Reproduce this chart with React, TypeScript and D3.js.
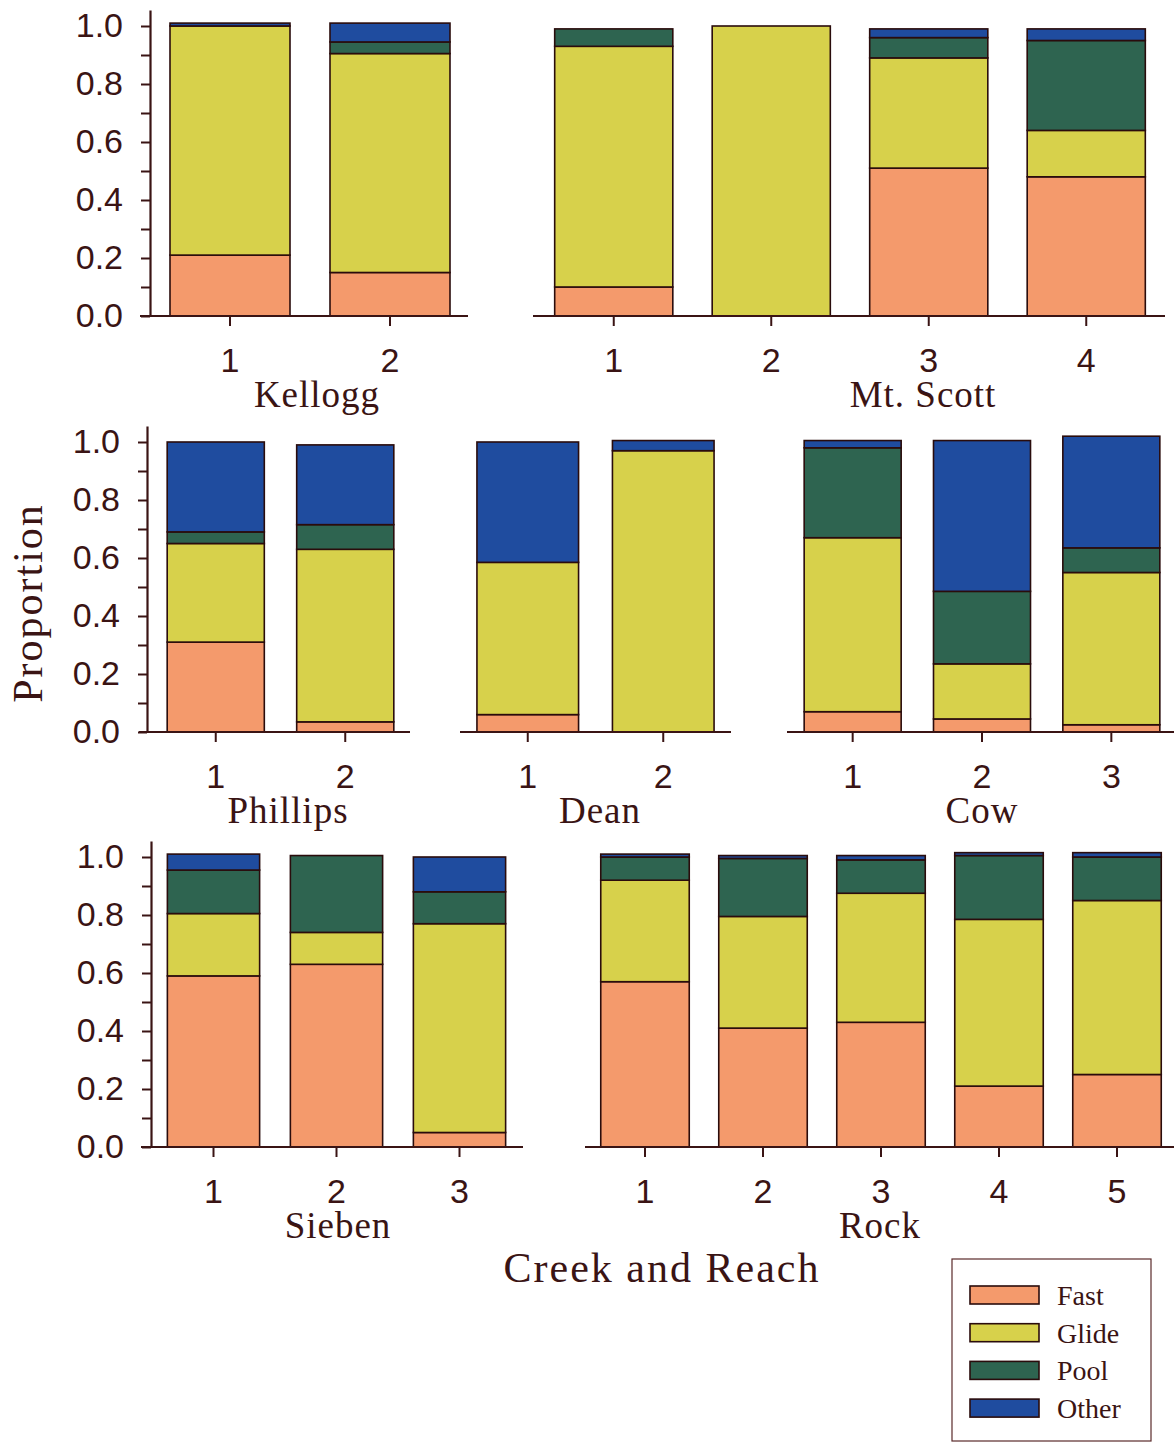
import React, { useEffect, useRef } from "react";
import * as d3 from "d3";

const habitatTypes = ["Fast", "Glide", "Pool", "Other"];
const habitatColors = ["#f49a6c", "#d7d14b", "#2e6450", "#1f4c9f"];

const creeks = ["Kellogg", "Mt. Scott", "Phillips", "Dean", "Cow", "Sieben", "Rock"];
const reaches = [
  ["1", "2"],
  ["1", "2", "3", "4"],
  ["1", "2"],
  ["1", "2"],
  ["1", "2", "3"],
  ["1", "2", "3"],
  ["1", "2", "3", "4", "5"],
];

// proportions of each habitat type, per creek and reach
const fast = [[0.21, 0.15], [0.1, 0, 0.51, 0.48], [0.31, 0.035], [0.06, 0], [0.07, 0.045, 0.025], [0.59, 0.63, 0.05], [0.57, 0.41, 0.43, 0.21, 0.25]];
const glide = [[0.79, 0.755], [0.83, 1.0, 0.38, 0.16], [0.34, 0.595], [0.525, 0.97], [0.6, 0.19, 0.525], [0.215, 0.11, 0.72], [0.35, 0.385, 0.445, 0.575, 0.6]];
const pool = [[0, 0.04], [0.06, 0, 0.07, 0.31], [0.04, 0.085], [0, 0], [0.31, 0.25, 0.085], [0.15, 0.265, 0.11], [0.08, 0.2, 0.115, 0.22, 0.15]];
const other = [[0.01, 0.065], [0, 0, 0.03, 0.04], [0.31, 0.275], [0.415, 0.035], [0.025, 0.52, 0.385], [0.055, 0, 0.12], [0.01, 0.01, 0.015, 0.01, 0.015]];

const yTicks = [0, 0.1, 0.2, 0.3, 0.4, 0.5, 0.6, 0.7, 0.8, 0.9, 1.0];
const yLabelTicks = [0, 0.2, 0.4, 0.6, 0.8, 1.0];

const WIDTH = 1174;
const HEIGHT = 1444;
const INK = "#3a1414";
const SANS = "'Liberation Sans', Arial, Helvetica, sans-serif";
const SERIF = "'Liberation Serif', 'Times New Roman', Times, serif";

// panel layout (pixel positions)
const rowBase = [316, 732, 1147];
const unit = 290;
const yTop = 1.055;
const panels = [
  { row: 0, x0: 150, x1: 470, axisStart: 140, axisEnd: 468, labelX: 317, yAxisX: 150 },
  { row: 0, x0: 535, x1: 1165, axisStart: 533, axisEnd: 1165, labelX: 923 },
  { row: 1, x0: 151, x1: 410, axisStart: 139, axisEnd: 410, labelX: 288, yAxisX: 147 },
  { row: 1, x0: 460, x1: 731, axisStart: 460, axisEnd: 731, labelX: 600 },
  { row: 1, x0: 788, x1: 1176, axisStart: 787, axisEnd: 1174, labelX: 982 },
  { row: 2, x0: 152, x1: 521, axisStart: 141, axisEnd: 523, labelX: 338, yAxisX: 151 },
  { row: 2, x0: 586, x1: 1176, axisStart: 585, axisEnd: 1174, labelX: 880 },
];

const App = () => {
  const svgRef = useRef(null);

  useEffect(() => {
    const svg = d3.select(svgRef.current);
    svg.selectAll("*").remove();

    const color = d3.scaleOrdinal().domain(habitatTypes).range(habitatColors);
    const stack = d3.stack().keys(habitatTypes);

    creeks.forEach((creek, ci) => {
      const p = panels[ci];
      const base = rowBase[p.row];
      const g = svg.append("g");

      const rows = reaches[ci].map((r, i) => ({
        reach: r,
        Fast: fast[ci][i],
        Glide: glide[ci][i],
        Pool: pool[ci][i],
        Other: other[ci][i],
      }));

      const x = d3.scaleBand()
        .domain(reaches[ci])
        .range([p.x0, p.x1])
        .paddingInner(0.25)
        .paddingOuter(0.125);

      const y = d3.scaleLinear()
        .domain([0, yTop])
        .range([base, base - yTop * unit]);

      const series = stack(rows);

      g.selectAll("g.layer")
        .data(series)
        .join("g")
        .attr("class", "layer")
        .attr("fill", d => color(d.key))
        .selectAll("rect")
        .data(d => d.filter(s => s[1] - s[0] > 0))
        .join("rect")
        .attr("x", d => x(d.data.reach))
        .attr("width", x.bandwidth())
        .attr("y", d => y(d[1]))
        .attr("height", d => y(d[0]) - y(d[1]))
        .attr("stroke", "#2a0c0c")
        .attr("stroke-width", 1.6);

      // x axis
      const xAxis = g.append("g")
        .attr("transform", `translate(0,${base})`)
        .call(d3.axisBottom(x).tickSize(10).tickPadding(22).tickSizeOuter(0));
      xAxis.select(".domain").remove();
      xAxis.selectAll("line").attr("stroke", INK).attr("stroke-width", 2);
      xAxis.selectAll("text")
        .attr("fill", INK)
        .style("font-family", SANS)
        .style("font-size", "34px");
      g.append("line")
        .attr("x1", p.axisStart)
        .attr("x2", p.axisEnd)
        .attr("y1", base)
        .attr("y2", base)
        .attr("stroke", INK)
        .attr("stroke-width", 2.2);

      // y axis only on the first panel of a row
      if (p.yAxisX !== undefined) {
        const yAxis = g.append("g")
          .attr("transform", `translate(${p.yAxisX},0)`)
          .call(
            d3.axisLeft(y)
              .tickValues(yTicks)
              .tickSize(9)
              .tickSizeOuter(0)
              .tickPadding(18)
              .tickFormat(d => (yLabelTicks.some(t => Math.abs(t - d) < 1e-6) ? d3.format(".1f")(d) : ""))
          );
        yAxis.select(".domain").attr("stroke", INK).attr("stroke-width", 2.2);
        yAxis.selectAll("line").attr("stroke", INK).attr("stroke-width", 2);
        yAxis.selectAll("text")
          .attr("fill", INK)
          .style("font-family", SANS)
          .style("font-size", "34px");
      }

      g.append("text")
        .attr("x", p.labelX)
        .attr("y", base + 91)
        .attr("text-anchor", "middle")
        .attr("fill", INK)
        .style("font-family", SERIF)
        .style("font-size", "37px")
        .style("letter-spacing", "1px")
        .text(creek);
    });

    // axis titles
    svg.append("text")
      .attr("transform", "translate(42,603) rotate(-90)")
      .attr("text-anchor", "middle")
      .attr("fill", INK)
      .style("font-family", SERIF)
      .style("font-size", "42px")
      .style("letter-spacing", "2px")
      .text("Proportion");

    svg.append("text")
      .attr("x", 662)
      .attr("y", 1282)
      .attr("text-anchor", "middle")
      .attr("fill", INK)
      .style("font-family", SERIF)
      .style("font-size", "42px")
      .style("letter-spacing", "2px")
      .text("Creek and Reach");

    // legend
    const legend = svg.append("g").attr("transform", "translate(952,1259)");
    legend.append("rect")
      .attr("width", 199)
      .attr("height", 182)
      .attr("fill", "white")
      .attr("stroke", "#5a2a2a")
      .attr("stroke-width", 1.2);
    const item = legend.selectAll("g.item")
      .data(habitatTypes)
      .join("g")
      .attr("class", "item")
      .attr("transform", (d, i) => `translate(18,${27 + i * 37.7})`);
    item.append("rect")
      .attr("width", 69)
      .attr("height", 18)
      .attr("fill", d => color(d))
      .attr("stroke", "#2a0c0c")
      .attr("stroke-width", 1.6);
    item.append("text")
      .attr("x", 87)
      .attr("y", 9)
      .attr("dy", "0.35em")
      .attr("fill", INK)
      .style("font-family", SERIF)
      .style("font-size", "28px")
      .text(d => d);
  }, []);

  return (
    <svg
      ref={svgRef}
      width={WIDTH}
      height={HEIGHT}
      style={{ position: "absolute", left: 0, top: 0, background: "white" }}
    ></svg>
  );
};

export default App;
